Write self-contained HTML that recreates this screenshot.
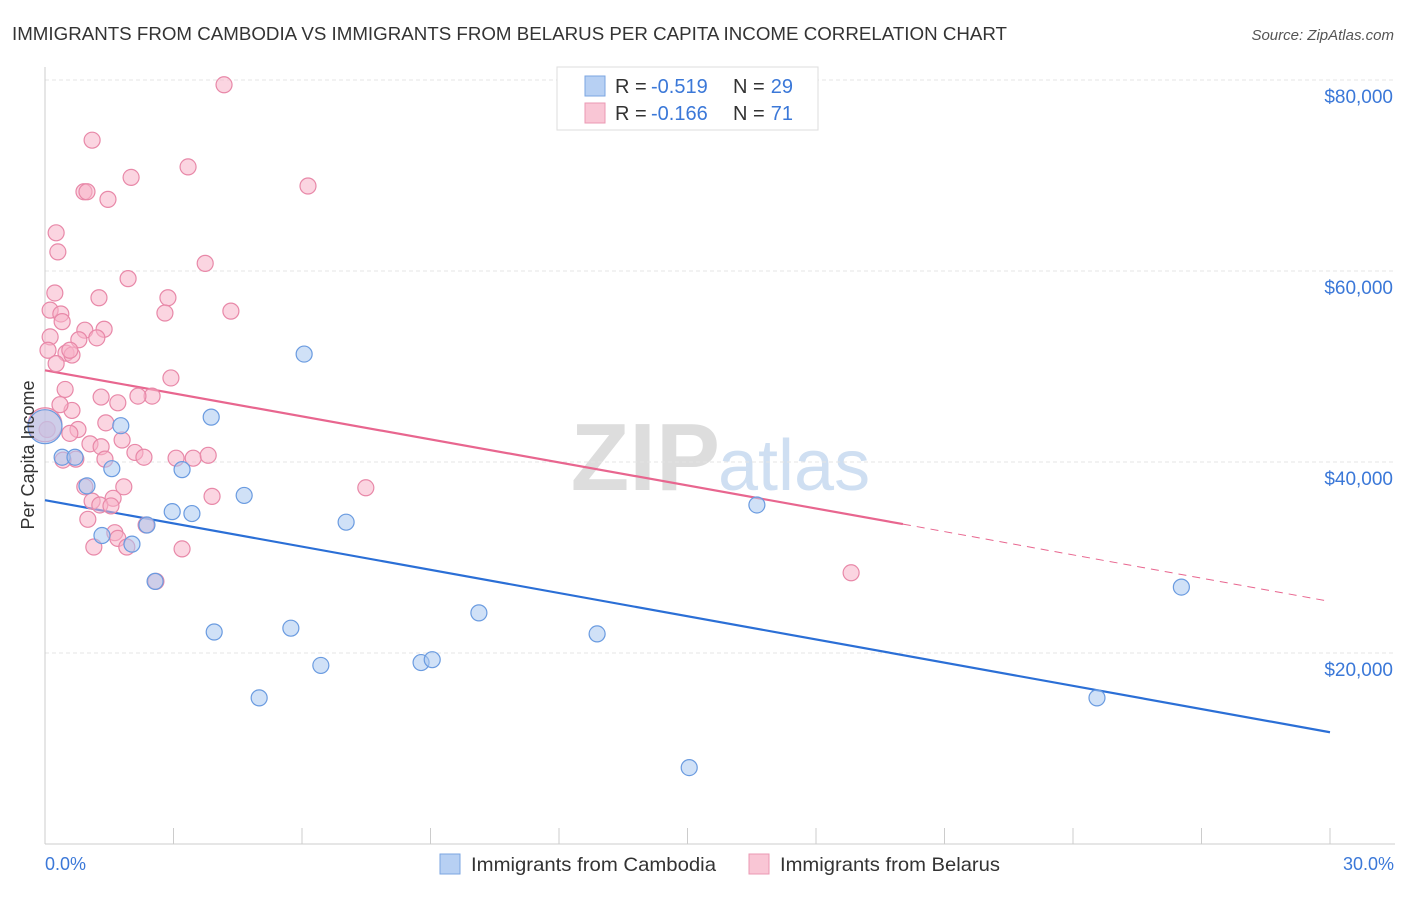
<!DOCTYPE html>
<html><head><meta charset="utf-8"><style>
body{margin:0;background:#fff;font-family:"Liberation Sans",sans-serif;}
svg text{font-family:"Liberation Sans",sans-serif;}
</style></head><body>
<svg id="c" width="1406" height="892">
<text x="12" y="40" font-size="18" fill="#333" textLength="995" lengthAdjust="spacingAndGlyphs">IMMIGRANTS FROM CAMBODIA VS IMMIGRANTS FROM BELARUS PER CAPITA INCOME CORRELATION CHART</text>
<text x="1394" y="40" font-size="15" fill="#555" font-style="italic" text-anchor="end">Source: ZipAtlas.com</text>
<text x="720" y="490" font-size="96" fill="#ddd" text-anchor="end" font-family="Liberation Serif" font-weight="bold">ZIP</text>
<text x="718" y="490" font-size="72" fill="#cfdff2">atlas</text>
<g id="grid"></g><g id="axes"></g><g id="trend"></g><g id="pts"></g>
<text x="34" y="455" font-size="18" fill="#333" text-anchor="middle" transform="rotate(-90 34 455)">Per Capita Income</text>
<text x="45" y="870" font-size="18" fill="#3b78d8">0.0%</text>
<text x="1394" y="870" font-size="18" fill="#3b78d8" text-anchor="end">30.0%</text>
<g>
<rect x="557" y="67" width="261" height="63" fill="#fff" stroke="#ddd"/>
<rect x="585" y="76" width="20" height="20" fill="#b7d0f3" stroke="#7ba6e2"/>
<rect x="585" y="103" width="20" height="20" fill="#f9c6d5" stroke="#eb98b3"/>
<text x="615" y="93" font-size="20" fill="#333">R =</text>
<text x="651" y="93" font-size="20" fill="#3b78d8">-0.519</text>
<text x="733" y="93" font-size="20" fill="#333">N =</text>
<text x="793" y="93" font-size="20" fill="#3b78d8" text-anchor="end">29</text>
<text x="615" y="120" font-size="20" fill="#333">R =</text>
<text x="651" y="120" font-size="20" fill="#3b78d8">-0.166</text>
<text x="733" y="120" font-size="20" fill="#333">N =</text>
<text x="793" y="120" font-size="20" fill="#3b78d8" text-anchor="end">71</text>
</g>
<g>
<rect x="440" y="854" width="20" height="20" fill="#b7d0f3" stroke="#7ba6e2"/>
<text x="471" y="871" font-size="19.5" fill="#333" textLength="245" lengthAdjust="spacingAndGlyphs">Immigrants from Cambodia</text>
<rect x="749" y="854" width="20" height="20" fill="#f9c6d5" stroke="#eb98b3"/>
<text x="780" y="871" font-size="19.5" fill="#333" textLength="220" lengthAdjust="spacingAndGlyphs">Immigrants from Belarus</text>
</g>
</svg>
<script>
const yTicks=[20000,40000,60000,80000];
const yTickLabels=["$20,000","$40,000","$60,000","$80,000"];
const xTicks=[0,3,6,9,12,15,18,21,24,27,30];
const cambodiaX=[0,0.4,0.7,0.98,1.33,1.56,1.77,2.03,2.38,2.57,2.97,3.2,3.43,3.88,3.95,4.65,5.0,5.74,6.05,6.44,7.03,8.78,9.04,10.13,12.89,15.04,16.62,24.56,26.53];
const cambodiaY=[43700,40500,40500,37500,32300,39300,43800,31400,33400,27500,34800,39200,34600,44700,22200,36500,15300,22600,51300,18700,33700,19000,19300,24200,22000,8000,35500,15300,26900];
const belarusX=[4.18,1.1,3.34,2.01,0.91,0.98,1.47,6.14,0.26,0.3,3.74,1.94,0.23,1.26,2.87,4.34,0.12,0.37,2.8,0.4,0.93,1.38,0.12,1.21,0.79,0.07,0.49,0.63,0.58,0.26,2.94,0.47,2.5,1.31,2.17,1.7,0.63,0.35,1.42,0.77,0.05,0.58,1.8,1.05,1.31,2.1,2.31,3.06,3.46,3.81,0.72,1.4,7.49,1.84,0.93,3.9,1.59,1.1,1.28,1.54,1.0,2.36,1.63,1.7,1.14,1.91,3.2,2.59,18.82,0,0.42];
const belarusY=[79500,73700,70900,69800,68300,68300,67500,68900,64000,62000,60800,59200,57700,57200,57200,55800,55900,55500,55600,54700,53800,53900,53100,53000,52800,51700,51400,51200,51700,50300,48800,47600,46900,46800,46900,46200,45400,46000,44100,43400,43400,43000,42300,41900,41600,41000,40500,40400,40400,40700,40300,40300,37300,37400,37400,36400,36200,35900,35500,35400,34000,33400,32600,32000,31100,31100,30900,27500,28400,43900,40200];
const cambodiaTrend=[[0,36000],[30,11700]];
const belarusTrendSolid=[[0,49600],[20.03,33500]];
const belarusTrendDash=[[20.03,33500],[30,25400]];
const NS="http://www.w3.org/2000/svg";
const X=v=>45+v/30*1285;
const Y=v=>653-(v-20000)*191/20000;
function mk(tag,attrs,parent){const e=document.createElementNS(NS,tag);for(const k in attrs)e.setAttribute(k,attrs[k]);document.getElementById(parent).appendChild(e);return e;}
yTicks.forEach((t,i)=>{
 const l=mk('line',{x1:45,x2:1395,y1:Y(t),y2:Y(t),stroke:'#e4e4e4','stroke-dasharray':'4 3'},'grid');
 
 
 const tx=mk('text',{x:1393,y:Y(t)+23,'font-size':19,fill:'#3b78d8','text-anchor':'end'},'grid');
 tx.textContent=yTickLabels[i];
 
 
});
const ax=mk('line',{x1:45,x2:1395,y1:844,y2:844,stroke:'#ccc'},'axes');


const ay=mk('line',{x1:45,x2:45,y1:67,y2:844,stroke:'#ccc'},'axes');


xTicks.forEach(t=>{
 const l=mk('line',{x1:X(t),x2:X(t),y1:828,y2:844,stroke:'#ccc'},'axes');
 
 
});
function line(d,color,dash,name){
 const l=mk('line',{x1:X(d[0][0]),y1:Y(d[0][1]),x2:X(d[1][0]),y2:Y(d[1][1]),stroke:color,'stroke-width':dash?1:2.2},'trend');
 if(dash)l.setAttribute('stroke-dasharray','8 6');
 
 
}
line(cambodiaTrend,'#2b6fd6',false,'cambodia-trend-line');
line(belarusTrendSolid,'#e8668f',false,'belarus-trend-line');
line(belarusTrendDash,'#e8668f',true,'belarus-trend-extension');
function pts(xs,ys,fill,stroke,name){
 xs.forEach((x,i)=>{
  const big=(x===0);
  const c=mk('circle',{cx:X(x),cy:Y(ys[i]),r:big?17:8,fill:fill,'fill-opacity':0.55,stroke:stroke,'stroke-width':1.2},'pts');
  
  
 });
}
pts(belarusX,belarusY,'#f7b3c8','#e888a8','belarus-point');
pts(cambodiaX,cambodiaY,'#a9c8f0','#6a9be0','cambodia-point');
</script>
</body></html>
